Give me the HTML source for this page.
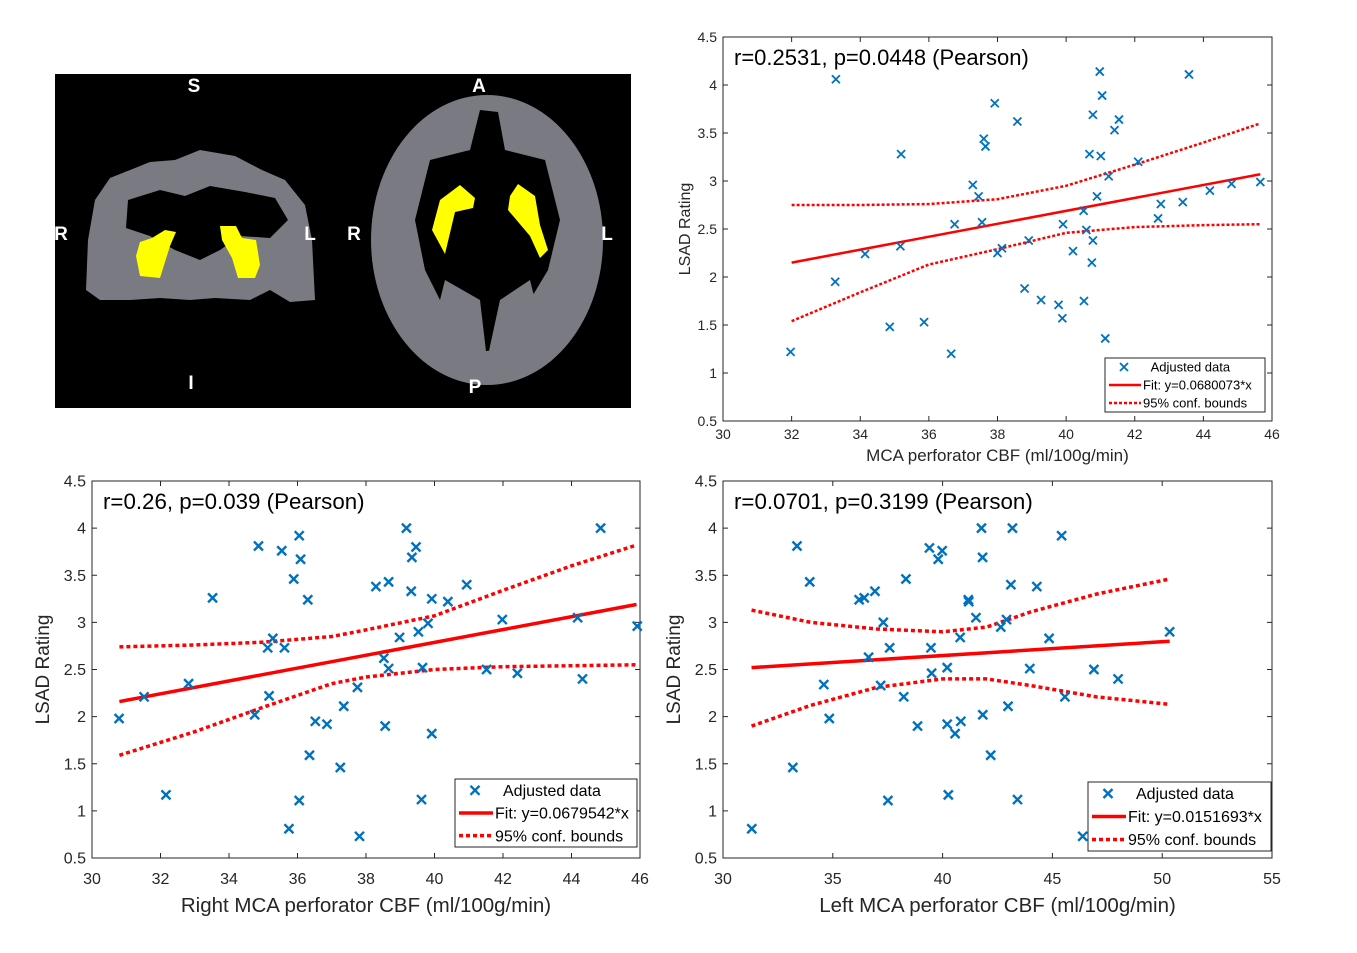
<!DOCTYPE html>
<html><head><meta charset="utf-8"><style>
body{margin:0;background:#fff;width:1357px;height:953px;overflow:hidden;font-family:"Liberation Sans",sans-serif}
svg{display:block}
</style></head><body>
<svg id="fig" width="1357" height="953" viewBox="0 0 1357 953" xmlns="http://www.w3.org/2000/svg">
<g>
<rect x="55" y="74" width="576" height="334" fill="#000"/>
<path d="M95,200 L110,178 L150,162 L175,160 L200,150 L235,156 L262,170 L285,180 L305,205 L312,240 L315,300 L290,302 L270,290 L250,300 L215,298 L190,300 L160,298 L130,300 L100,300 L86,290 L88,240 Z" fill="#7a7a82"/>
<path d="M128,200 L160,190 L185,196 L210,186 L245,192 L275,198 L288,220 L270,238 L240,236 L220,250 L200,260 L175,250 L150,236 L126,228 Z" fill="#000"/>
<path d="M136,256 L140,242 L152,238 L165,230 L176,232 L170,246 L160,278 L140,276 Z" fill="#ff0"/>
<path d="M220,226 L236,226 L242,238 L256,240 L260,265 L255,278 L238,278 L232,258 L222,240 Z" fill="#ff0"/>
<ellipse cx="487" cy="240" rx="116" ry="145" fill="#7a7a82"/>
<path d="M430,160 L470,150 L480,110 L498,112 L505,150 L545,160 L560,220 L548,270 L530,300 L510,330 L495,350 L478,352 L460,330 L440,300 L425,270 L415,220 Z" fill="#000"/>
<path d="M445,280 L480,300 L487,360 L500,300 L530,280 L540,320 L520,350 L487,365 L455,350 L435,320 Z" fill="#7a7a82"/>
<path d="M460,185 L475,198 L473,208 L455,212 L445,254 L432,230 L440,200 Z" fill="#ff0"/>
<path d="M518,184 L535,196 L540,225 L548,250 L540,258 L530,236 L508,210 L510,196 Z" fill="#ff0"/>
<g font-family="Liberation Sans,sans-serif" font-weight="bold" font-size="19" fill="#fff" text-anchor="middle">
<text x="194" y="92">S</text>
<text x="479" y="92">A</text>
<text x="61" y="240">R</text>
<text x="310" y="240">L</text>
<text x="354" y="240">R</text>
<text x="607" y="240">L</text>
<text x="191" y="389">I</text>
<text x="475" y="393">P</text>
</g>
</g>
</svg>
<script>
// ---- Chart A (top-right) data ----
const aX=[31.97,33.29,33.27,34.14,34.86,35.19,35.17,35.86,36.65,36.75,37.28,37.45,37.55,37.60,37.65,37.92,38.0,38.13,38.58,38.79,38.91,39.27,39.78,39.89,39.91,40.20,40.51,40.52,40.59,40.68,40.75,40.78,40.78,40.90,40.98,41.01,41.05,41.14,41.24,41.41,41.54,42.10,42.68,42.76,43.40,43.58,44.19,44.82,45.66];
const aY=[1.22,4.06,1.95,2.24,1.48,3.28,2.32,1.53,1.20,2.55,2.96,2.84,2.57,3.44,3.36,3.81,2.25,2.30,3.62,1.88,2.38,1.76,1.71,1.57,2.55,2.27,2.69,1.75,2.49,3.28,2.15,2.38,3.69,2.84,4.14,3.26,3.89,1.36,3.05,3.53,3.64,3.20,2.61,2.76,2.78,4.11,2.90,2.97,2.99];
const aFitX=[32,45.66], aFitY=[2.15,3.07];
const aBX=[32,34,36,38,40,42,44,45.66];
const aUp=[2.75,2.75,2.76,2.81,2.95,3.17,3.40,3.60];
const aLo=[1.54,1.84,2.13,2.29,2.46,2.52,2.54,2.55];
const aXTicks=[30,32,34,36,38,40,42,44,46];
// ---- Chart B (bottom-left) data ----
const bX=[30.79,31.52,32.16,32.82,33.52,34.75,34.86,35.13,35.17,35.28,35.54,35.62,35.75,35.89,36.05,36.09,36.05,36.30,36.35,36.52,36.86,37.25,37.35,37.75,37.81,38.29,38.52,38.56,38.66,38.66,38.98,39.18,39.32,39.34,39.46,39.53,39.62,39.65,39.81,39.92,39.92,40.39,40.94,41.52,41.98,42.42,44.18,44.32,44.85,45.92];
const bY=[1.98,2.21,1.17,2.35,3.26,2.02,3.81,2.73,2.22,2.83,3.76,2.73,0.81,3.46,3.92,3.67,1.11,3.24,1.59,1.95,1.92,1.46,2.11,2.31,0.73,3.38,2.62,1.90,3.43,2.51,2.84,4.00,3.33,3.69,3.80,2.90,1.12,2.52,2.99,3.25,1.82,3.22,3.40,2.50,3.03,2.46,3.05,2.40,4.00,2.96];
const bFitX=[30.8,45.9], bFitY=[2.16,3.19];
const bBX=[30.8,33,35,37,38,40,42,44,45.9];
const bUp=[2.74,2.76,2.79,2.85,2.92,3.07,3.34,3.60,3.82];
const bLo=[1.59,1.84,2.10,2.35,2.42,2.50,2.53,2.54,2.55];
const bXTicks=[30,32,34,36,38,40,42,44,46];
// ---- Chart C (bottom-right) data ----
const cX=[31.31,33.18,33.37,33.95,34.59,34.84,36.20,36.43,36.63,36.92,37.18,37.30,37.51,37.59,38.23,38.33,38.86,39.40,39.47,39.50,39.80,39.98,40.21,40.21,40.26,40.57,40.80,40.83,41.17,41.19,41.52,41.77,41.82,41.83,42.19,42.65,42.91,42.98,43.11,43.18,43.41,43.97,44.29,44.85,45.42,45.57,46.38,46.89,47.99,50.34];
const cY=[0.81,1.46,3.81,3.43,2.34,1.98,3.24,3.26,2.63,3.33,2.33,3.00,1.11,2.73,2.21,3.46,1.90,3.79,2.73,2.46,3.67,3.76,2.52,1.92,1.17,1.82,2.84,1.95,3.24,3.22,3.05,4.00,3.69,2.02,1.59,2.95,3.03,2.11,3.40,4.00,1.12,2.51,3.38,2.83,3.92,2.21,0.73,2.50,2.40,2.90];
const cFitX=[31.3,50.34], cFitY=[2.52,2.80];
const cBX=[31.3,34,37,40,42,44,47,50.34];
const cUp=[3.13,3.00,2.93,2.90,2.95,3.11,3.30,3.46];
const cLo=[1.90,2.12,2.31,2.40,2.40,2.33,2.21,2.13];
const cXTicks=[30,35,40,45,50,55];
const yTicks=[0.5,1,1.5,2,2.5,3,3.5,4,4.5];
const yTickLabels=["0.5","1","1.5","2","2.5","3","3.5","4","4.5"];

const NS="http://www.w3.org/2000/svg";
const svg=document.getElementById('fig');
function mk(tag,attrs,parent){const e=document.createElementNS(NS,tag);for(const k in attrs)e.setAttribute(k,attrs[k]);(parent||svg).appendChild(e);return e;}

function chart(o){
  const g=mk('g',{});
  
  
  const sx=v=>o.L+(v-o.x0)/(o.x1-o.x0)*(o.R-o.L);
  const sy=v=>o.B-(v-0.5)/4*(o.B-o.T);
  const box=mk('rect',{x:o.L,y:o.T,width:o.R-o.L,height:o.B-o.T,fill:'#fff',stroke:'#262626','stroke-width':1},g);
  
  
  const fs=o.fs;
  o.xt.forEach(v=>{
    const x=sx(v);
    mk('line',{x1:x,x2:x,y1:o.B,y2:o.B-5,stroke:'#262626'},g);
    mk('line',{x1:x,x2:x,y1:o.T,y2:o.T+5,stroke:'#262626'},g);
    const t=mk('text',{x:x,y:o.B+fs+o.xtOff,'font-size':fs,'text-anchor':'middle',fill:'#262626'},g);
    t.textContent=String(v);
    
    
  });
  yTicks.forEach((v,i)=>{
    const y=sy(v);
    mk('line',{x1:o.L,x2:o.L+5,y1:y,y2:y,stroke:'#262626'},g);
    mk('line',{x1:o.R,x2:o.R-5,y1:y,y2:y,stroke:'#262626'},g);
    const t=mk('text',{x:o.L-6,y:y+fs*0.35,'font-size':fs,'text-anchor':'end',fill:'#262626'},g);
    t.textContent=yTickLabels[i];
    
    
  });
  const xl=mk('text',{x:(o.L+o.R)/2,y:o.xlY,'font-size':o.lfs,'text-anchor':'middle',fill:'#262626'},g);
  xl.textContent=o.xlabel;
  
  
  const yl=mk('text',{x:0,y:0,'font-size':o.ylfs,'text-anchor':'middle',fill:'#262626',transform:`translate(${o.ylX},${(o.T+o.B)/2}) rotate(-90)`},g);
  yl.textContent='LSAD Rating';
  
  
  const st=mk('text',{x:o.L+11,y:o.T+28,'font-size':o.tfs,fill:'#000'},g);
  st.textContent=o.stat;
  
  
  [[o.up,'upper'],[o.lo,'lower']].forEach(([arr,nm])=>{
    const p=mk('polyline',{points:o.bx.map((v,i)=>sx(v)+','+sy(arr[i])).join(' '),fill:'none',stroke:'#f00','stroke-width':o.lw,'stroke-dasharray':o.dash},g);
    
    
  });
  const fl=mk('line',{x1:sx(o.fx[0]),y1:sy(o.fy[0]),x2:sx(o.fx[1]),y2:sy(o.fy[1]),stroke:'#f00','stroke-width':o.lw},g);
  
  
  o.dx.forEach((v,i)=>{
    const x=sx(v),y=sy(o.dy[i]),h=o.ms;
    const p=mk('path',{d:`M${x-h},${y-h}L${x+h},${y+h}M${x-h},${y+h}L${x+h},${y-h}`,stroke:'#0072BD','stroke-width':o.mw,fill:'none'},g);
    
    
  });
  const lg=mk('g',{},g);
  
  
  const [lx,ly,lw,lh]=o.leg;
  mk('rect',{x:lx,y:ly,width:lw,height:lh,fill:'#fff',stroke:'#262626'},lg);
  const rh=lh/3, tx=lx+o.legTx, lfs=o.legFs;
  const mx=lx+o.legTx/2, my=ly+rh/2, h=o.ms;
  mk('path',{d:`M${mx-h},${my-h}L${mx+h},${my+h}M${mx-h},${my+h}L${mx+h},${my-h}`,stroke:'#0072BD','stroke-width':o.mw},lg);
  mk('line',{x1:lx+4,x2:tx-2,y1:ly+rh*1.5,y2:ly+rh*1.5,stroke:'#f00','stroke-width':o.lw},lg);
  mk('line',{x1:lx+4,x2:tx-2,y1:ly+rh*2.5,y2:ly+rh*2.5,stroke:'#f00','stroke-width':o.lw,'stroke-dasharray':o.dash},lg);
  ['Adjusted data',o.fitLabel,'95% conf. bounds'].forEach((s,i)=>{
    const t=mk('text',{x:tx+(i==0?o.legTx*0.2:0),y:ly+rh*(i+0.5)+lfs*0.35,'font-size':lfs,fill:'#000'},lg);
    t.textContent=s;
    
    
  });
}

chart({name:'chart-mca',L:723,R:1272,T:37,B:421,x0:30,x1:46,xt:aXTicks,fs:14,xtOff:4,lfs:17,ylfs:16,tfs:22,xlY:461,ylX:690,
  xlabel:'MCA perforator CBF (ml/100g/min)',stat:'r=0.2531, p=0.0448 (Pearson)',dx:aX,dy:aY,fx:aFitX,fy:aFitY,bx:aBX,up:aUp,lo:aLo,
  lw:2.5,dash:'3,2',ms:4,mw:1.8,leg:[1105,358,160,54],legTx:38,legFs:13,fitLabel:'Fit: y=0.0680073*x'});
chart({name:'chart-right-mca',L:92,R:640,T:481,B:858,x0:30,x1:46,xt:bXTicks,fs:16,xtOff:10,lfs:20.5,ylfs:19,tfs:22.3,xlY:912,ylX:49,
  xlabel:'Right MCA perforator CBF (ml/100g/min)',stat:'r=0.26, p=0.039 (Pearson)',dx:bX,dy:bY,fx:bFitX,fy:bFitY,bx:bBX,up:bUp,lo:bLo,
  lw:3.5,dash:'4,3',ms:4.5,mw:2.4,leg:[455,779,182,68],legTx:40,legFs:16,fitLabel:'Fit: y=0.0679542*x'});
chart({name:'chart-left-mca',L:723,R:1272,T:481,B:858,x0:30,x1:55,xt:cXTicks,fs:16,xtOff:10,lfs:20.5,ylfs:19,tfs:22.3,xlY:912,ylX:680,
  xlabel:'Left MCA perforator CBF (ml/100g/min)',stat:'r=0.0701, p=0.3199 (Pearson)',dx:cX,dy:cY,fx:cFitX,fy:cFitY,bx:cBX,up:cUp,lo:cLo,
  lw:3.5,dash:'4,3',ms:4.5,mw:2.4,leg:[1088,782,183,69],legTx:40,legFs:16,fitLabel:'Fit: y=0.0151693*x'});
</script>
</body></html>
